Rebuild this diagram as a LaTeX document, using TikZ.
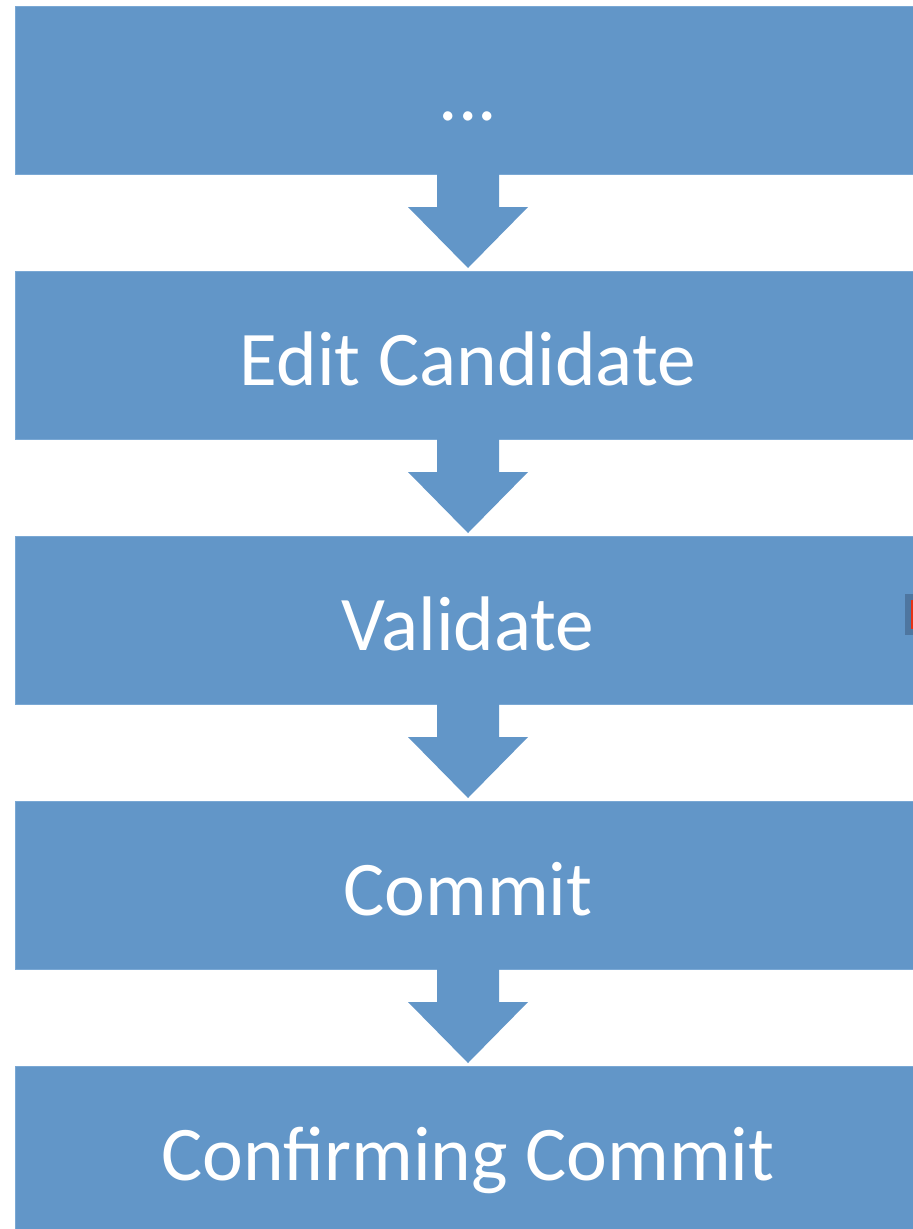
\documentclass[tikz,border=0pt]{standalone}
\usepackage{fontspec}
\setmainfont{Carlito}
\usepackage{tikz}
\usetikzlibrary{positioning,calc}

\definecolor{stepblue}{RGB}{98,150,200}
\definecolor{stepedge}{RGB}{122,168,212}
\definecolor{markblue}{RGB}{78,118,160}
\definecolor{markred}{RGB}{232,48,20}

\begin{document}
\begin{tikzpicture}[
      x=0.75pt, y=-0.75pt, % pixel grid, origin top left
      node distance=72.75pt,
      stepbox/.style={rectangle, fill=stepblue, draw=stepedge, line width=0.6pt,
        minimum width=679.5pt, minimum height=126pt, inner sep=0pt, outer sep=0pt,
        font=\fontsize{58}{58}\selectfont, text=white,
        text height=45pt, text depth=0pt},
      blockarrow/.style={fill=stepblue},
  ]
      \useasboundingbox (0,0) rectangle (913,1229);
      \clip (0,0) rectangle (913,1229);

      % --- STEPS ---
      \node[stepbox] (dots) at (468,90) {...};
      \node[stepbox, below=of dots] (edit) {Edit Candidate};
      \node[stepbox, below=of edit] (validate) {Validate};
      \node[stepbox, below=of validate] (commit) {Commit};
      \node[stepbox, below=of commit] (confirm) {Confirming Commit};

      % --- BLOCK ARROWS BETWEEN STEPS ---
      \foreach \a/\b in {dots/edit, edit/validate, validate/commit, commit/confirm}
        \fill[blockarrow] ($(\a.south)+(-31,-1)$) -- ($(\a.south)+(-31,33)$)
          -- ($(\a.south)+(-60,33)$) -- ($(\b.north)+(0,-3)$)
          -- ($(\a.south)+(60,33)$) -- ($(\a.south)+(31,33)$)
          -- ($(\a.south)+(31,-1)$) -- cycle;

      % small marker on the right edge
      \fill[markblue] ($(validate.east)+(-16,-26)$) rectangle ($(validate.east)+(-8,15)$);
      \fill[markred] ($(validate.east)+(-10,-20)$) rectangle ($(validate.east)+(-8,9)$);

  \end{tikzpicture}
\end{document}
